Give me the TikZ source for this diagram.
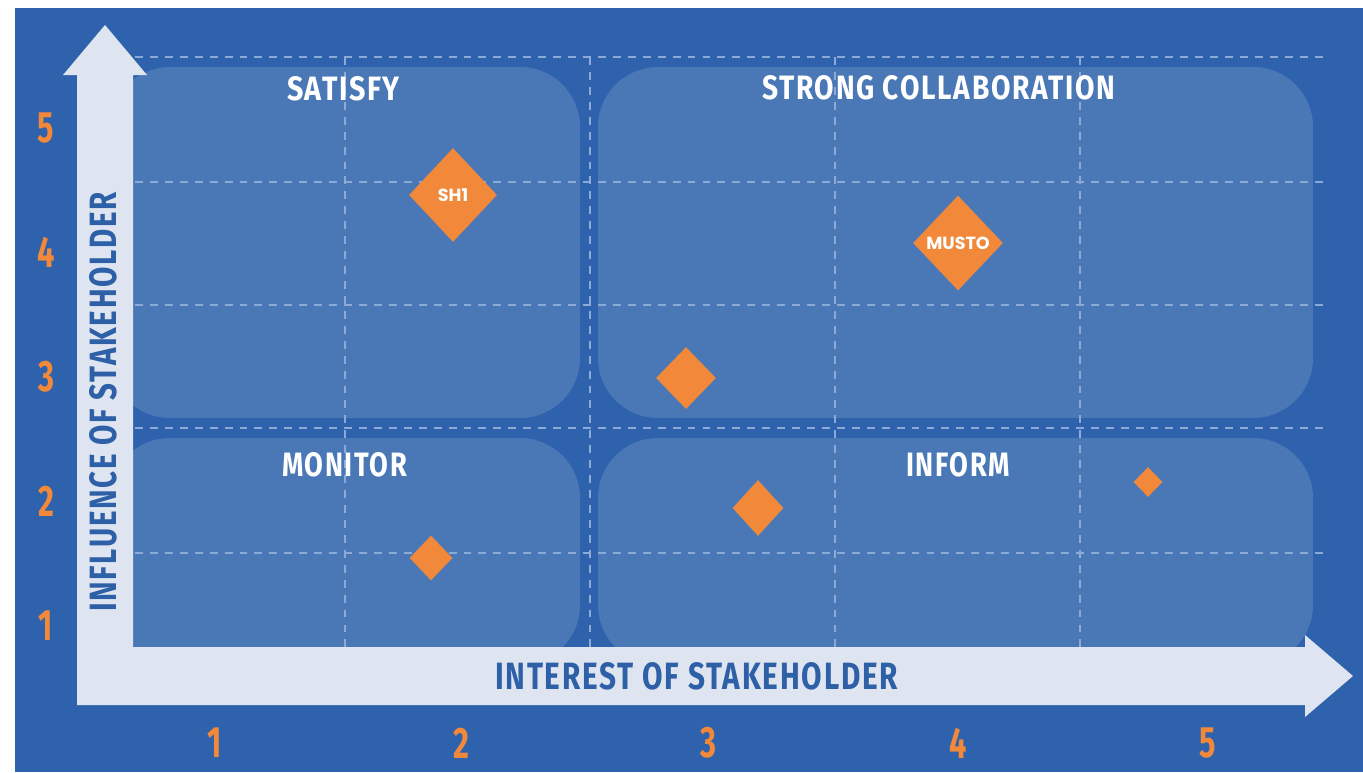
\documentclass[tikz,border=0pt]{standalone}
\usepackage{fontspec}
\usepackage{graphicx}
\setmainfont{Fira Sans}
\newfontfamily\condfont[FakeStretch=0.7]{Fira Sans}
\newfontfamily\tagfont{Poppins}
\usetikzlibrary{shapes.geometric}
\definecolor{bgblue}{RGB}{47,98,172}
\definecolor{panelblue}{RGB}{74,120,183}
\definecolor{arrowwhite}{RGB}{222,229,240}
\definecolor{titleblue}{RGB}{46,96,168}
\definecolor{markorange}{RGB}{241,136,58}
\definecolor{gridblue}{RGB}{140,170,214}
% label squeezed to a given width and cap height
\newcommand{\fitlabel}[3]{\resizebox{#1}{#2}{\bfseries\addfontfeature{LetterSpace=6}#3}}
\begin{document}
\begin{tikzpicture}[x=0.02cm, y=-0.02cm,
  gridline/.style={gridblue, line width=0.7pt, dash pattern=on 4.5pt off 4pt},
  midline/.style={gridline, line width=1pt},
  quad/.style={text=white, inner sep=0},
  axtitle/.style={text=titleblue, inner sep=0},
  num/.style={text=markorange, inner sep=0, font=\condfont\bfseries\fontsize{25}{25}\selectfont},
  stake/.style={diamond, fill=markorange, inner sep=0, text=white, font=\tagfont\bfseries\fontsize{10}{10}\selectfont}]
\useasboundingbox (0,0) rectangle (1363,772);
\fill[bgblue] (15,8) rectangle (1363,772);
% quadrant panels
\fill[panelblue, rounded corners=1.2cm] (110,67) rectangle (580,418);
\fill[panelblue, rounded corners=1.2cm] (598,67) rectangle (1313,418);
\fill[panelblue, rounded corners=1.2cm] (110,438) rectangle (580,665);
\fill[panelblue, rounded corners=1.2cm] (598,438) rectangle (1313,665);
% grid
\foreach \y in {57,182,305,553} \draw[gridline] (135,\y) -- (1325,\y);
\foreach \x in {345,835,1080} \draw[gridline] (\x,57) -- (\x,647);
\draw[midline] (135,428) -- (1325,428);
\draw[midline] (590,57) -- (590,647);
% axes
\fill[arrowwhite] (77,705) -- (77,75) -- (63,75) -- (105,25) -- (147,75) -- (133,75) -- (133,647)
  -- (1305,647) -- (1305,635) -- (1353,676) -- (1305,717) -- (1305,705) -- cycle;
\node[axtitle] (interest) at (696.5,676) {\fitlabel{8.06cm}{0.54cm}{INTEREST OF STAKEHOLDER}};
\node[axtitle, rotate=90] (influence) at (103,402) {\fitlabel{8.4cm}{0.54cm}{INFLUENCE OF STAKEHOLDER}};
\foreach \n/\y in {5/128,4/252,3/377,2/501,1/626} \node[num] (y\n) at (46,\y) {\n};
\foreach \n/\x in {1/215,2/461,3/708,4/958,5/1208} \node[num] (x\n) at (\x,743) {\n};
% quadrant names
\node[quad] (satisfy) at (343.5,88.5) {\fitlabel{2.26cm}{0.48cm}{SATISFY}};
\node[quad] (strong) at (938.5,88) {\fitlabel{7.06cm}{0.48cm}{STRONG COLLABORATION}};
\node[quad] (monitor) at (344.5,465) {\fitlabel{2.5cm}{0.48cm}{MONITOR}};
\node[quad] (inform) at (958,465) {\fitlabel{2.08cm}{0.48cm}{INFORM}};
% stakeholders
\node[stake, minimum width=1.76cm, minimum height=1.88cm] (sh1) at (453,195) {SH1};
\node[stake, minimum width=1.8cm, minimum height=1.9cm] (musto) at (958,243) {MUSTO};
\node[stake, minimum width=1.2cm, minimum height=1.24cm] (s3) at (686,378) {};
\node[stake, minimum width=1.02cm, minimum height=1.12cm] (s4) at (758,508) {};
\node[stake, minimum width=0.86cm, minimum height=0.9cm] (s5) at (431,558) {};
\node[stake, minimum width=0.58cm, minimum height=0.6cm] (s6) at (1148,482) {};
\end{tikzpicture}
\end{document}
